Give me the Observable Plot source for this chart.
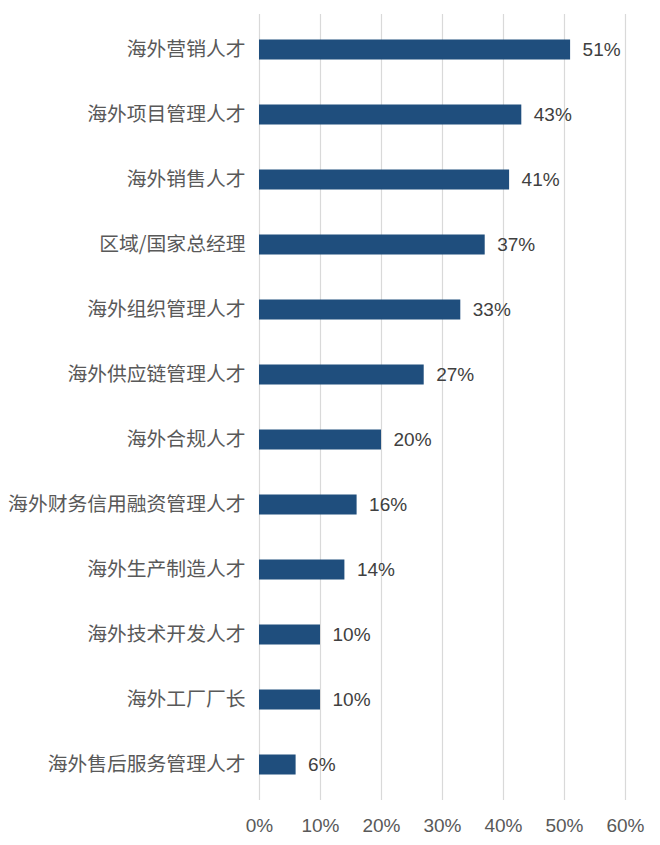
<!DOCTYPE html>
<html>
<head>
<meta charset="utf-8">
<script src="https://cdn.jsdelivr.net/npm/d3@7"></script>
<script src="https://cdn.jsdelivr.net/npm/@observablehq/plot@0.6"></script>
<style>
  body { margin: 0; background: #fff; }
  svg { display: block; }
</style>
</head>
<body>
<div id="chart"></div>
<script>
const categories = ["海外营销人才","海外项目管理人才","海外销售人才","区域/国家总经理","海外组织管理人才","海外供应链管理人才","海外合规人才","海外财务信用融资管理人才","海外生产制造人才","海外技术开发人才","海外工厂厂长","海外售后服务管理人才"];
const values = [51,43,41,37,33,27,20,16,14,10,10,6];
const xTicks = [0,10,20,30,40,50,60];

const data = categories.map((c, i) => ({category: c, value: values[i]}));

const chart = Plot.plot({
  width: 660,
  height: 845,
  marginTop: 14,
  marginBottom: 45,
  marginLeft: 259,
  marginRight: 35,
  style: {fontFamily: "'Liberation Sans', Arial, 'Noto Sans CJK SC', sans-serif", fontSize: "19px", color: "#595959", background: "#fff"},
  x: {domain: [0, 60], ticks: xTicks, tickFormat: d => d + "%"},
  y: {domain: categories, padding: 0},
  marks: [
    Plot.gridX(xTicks, {stroke: "#d9d9d9", strokeOpacity: 1, strokeWidth: 1.2}),
    Plot.axisX({ticks: xTicks, tickSize: 0, tickPadding: 18, tickFormat: d => d + "%", fill: "#595959", fontSize: 19, label: null}),
    Plot.axisY({tickSize: 0, tickPadding: 14, fill: "#595959", fontSize: 19.8, label: null, fontFamily: "'Noto Sans CJK SC', sans-serif"}),
    Plot.barX(data, {y: "category", x: "value", fill: "#1f4e7d", insetTop: 22.5, insetBottom: 22.5}),
    Plot.text(data, {y: "category", x: "value", text: d => d.value + "%", textAnchor: "start", dx: 12, fill: "#404040", fontSize: 19})
  ]
});
document.getElementById("chart").appendChild(chart);
</script>
</body>
</html>
